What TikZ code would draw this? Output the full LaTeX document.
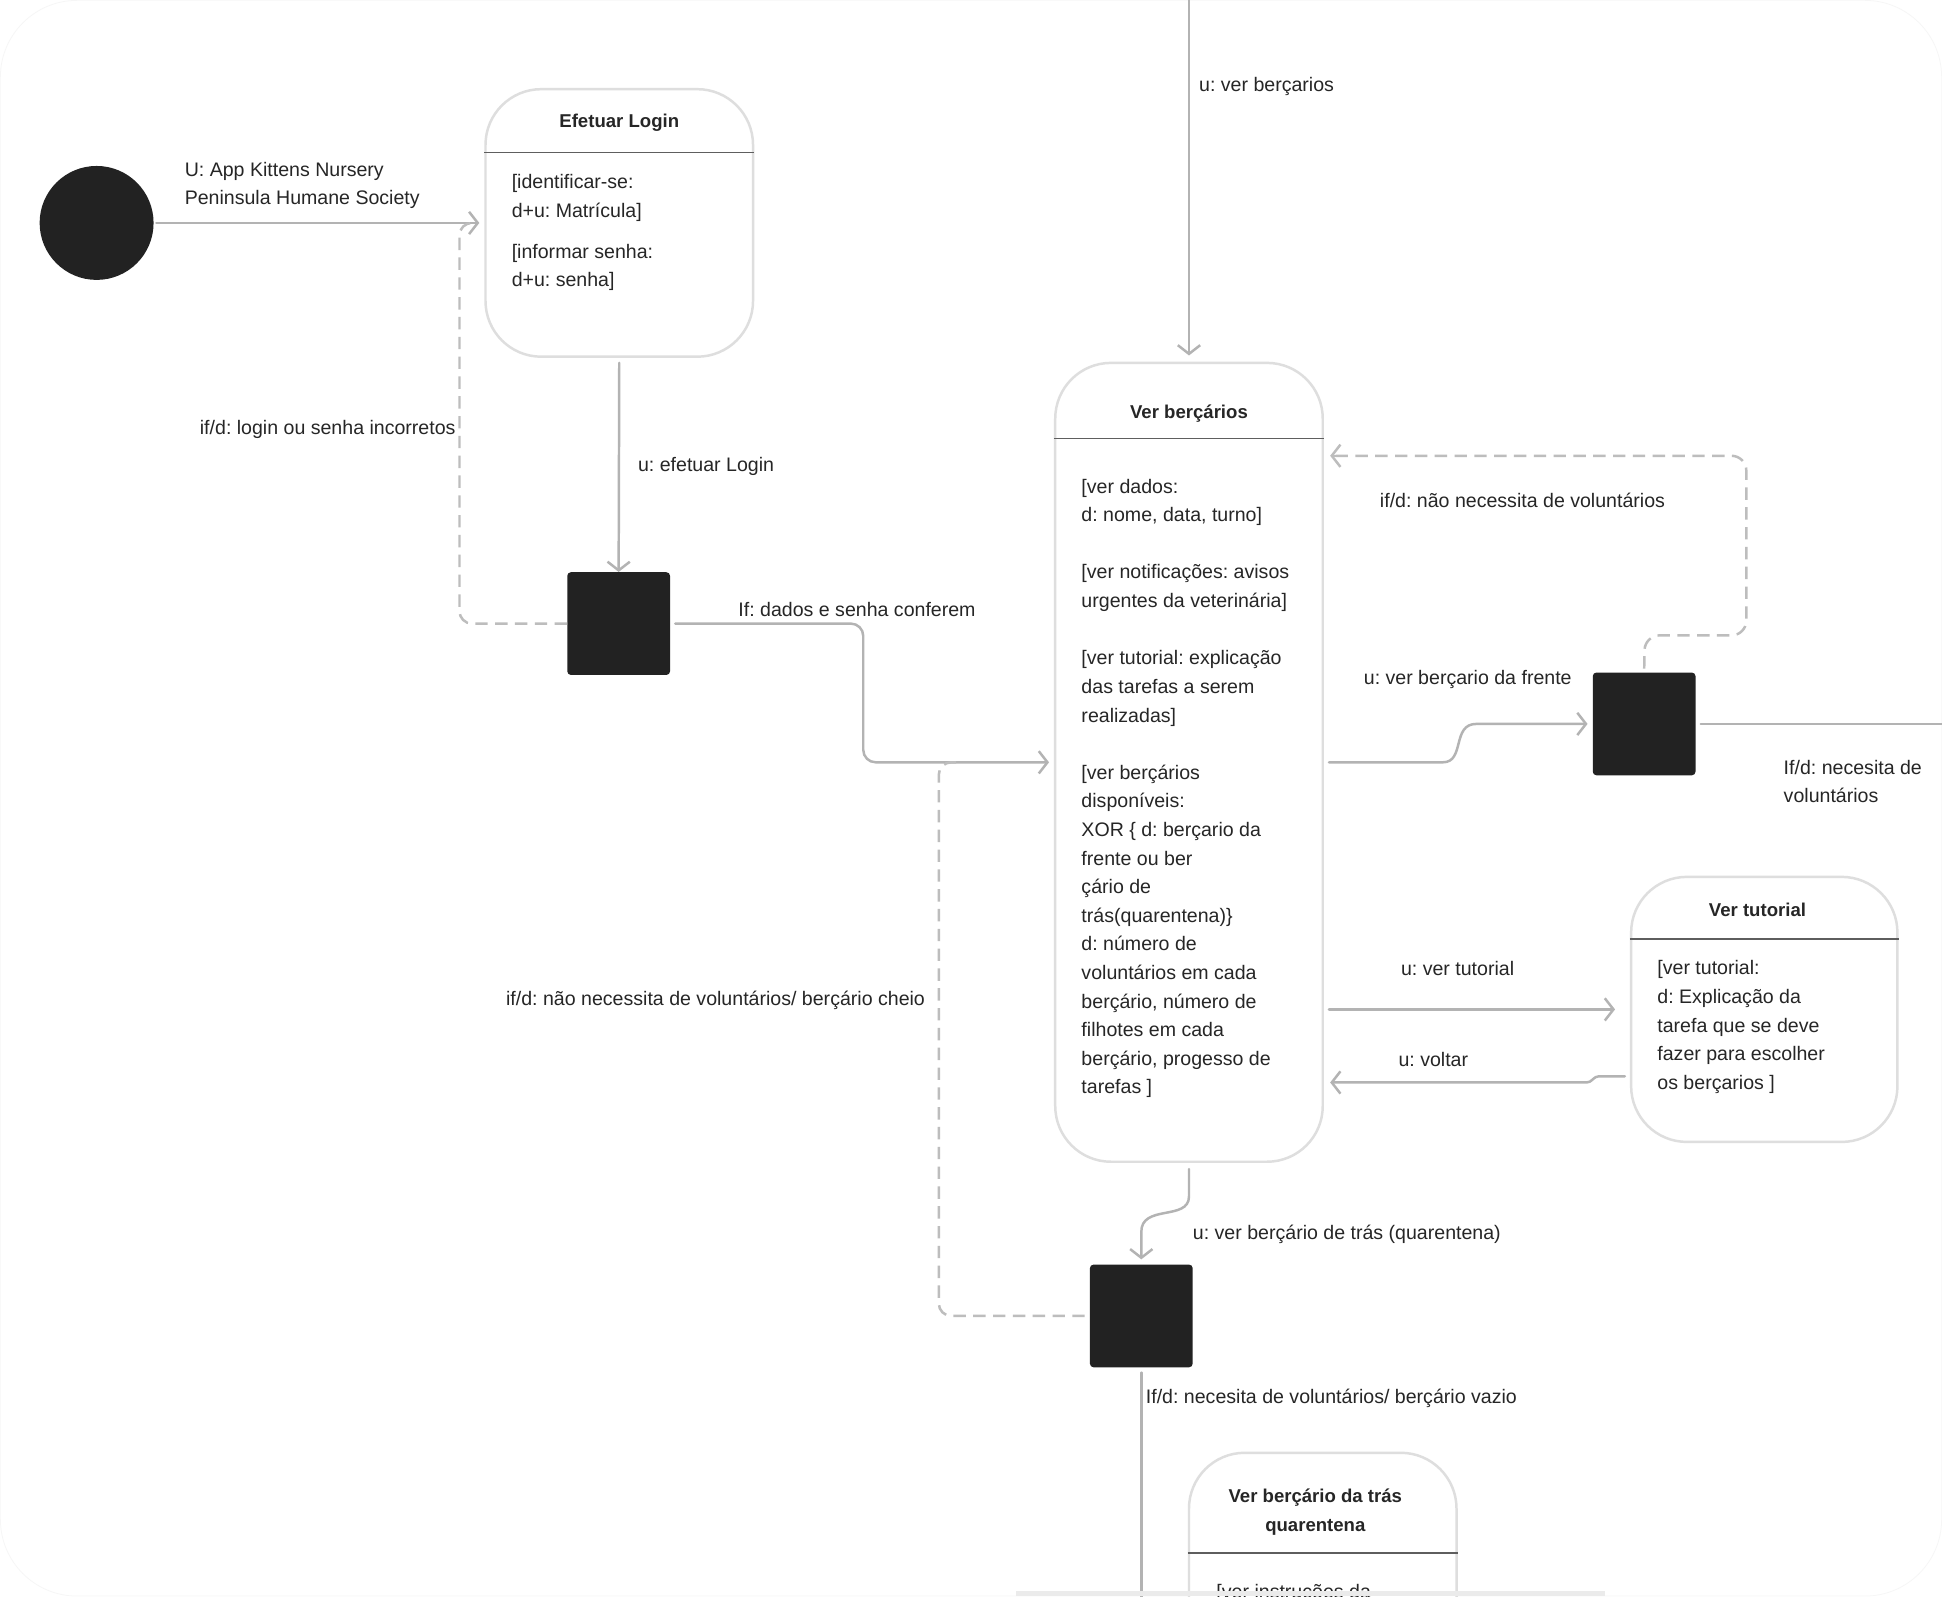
\documentclass[tikz,border=0pt]{standalone}
\usepackage{fontspec}
\setmainfont{Liberation Sans}
\usetikzlibrary{arrows.meta}
\frenchspacing
\definecolor{ink}{HTML}{262626}
\definecolor{wirec}{HTML}{B3B3B3}
\definecolor{dashc}{HTML}{BDBDBD}
\definecolor{rim}{HTML}{DEDEDE}
\definecolor{sepc}{HTML}{5E5E5E}
\definecolor{blk}{HTML}{222222}
\definecolor{framec}{HTML}{F6F6F6}
\definecolor{bandc}{HTML}{EBEBEB}
\tikzset{
  lbl/.style={font=\fontsize{15.8}{23}\selectfont, text=ink, inner sep=0, text height=11.5, text depth=3.5},
  mlbl/.style={font=\fontsize{15.8}{23}\selectfont, text=ink, inner sep=0, align=left, anchor=north west},
  body/.style={font=\fontsize{15.8}{23.1}\selectfont, text=ink, inner sep=0, align=left, anchor=north west},
  ttl/.style={font=\fontsize{15}{23}\selectfont\bfseries, text=ink, inner sep=0, align=center},
  statebox/.style={draw=rim, line width=2, rounded corners=45, fill=white, inner sep=0},
  sepline/.style={draw=sepc, line width=1.2},
  bar/.style={fill=blk, rounded corners=3, inner sep=0, minimum width=83, minimum height=83},
  tipa/.tip={Straight Barb[length=7,width=18]},
  wire/.style={draw=wirec, line width=2, line cap=round},
  awire/.style={wire, -tipa},
  dwire/.style={draw=dashc, line width=2, dash pattern=on 10 off 6},
}
\begin{document}
\begin{tikzpicture}[x=1pt,y=-1pt]
\useasboundingbox (0,0) rectangle (1568,1289);
\clip (0,0) rectangle (1568,1289);
\fill[white] (0,0) rectangle (1568,1289);
\draw[framec, line width=0.6, rounded corners=62] (0.3,0.3) rectangle (1567.7,1288.7);

% ---------- states ----------
\node[circle, fill=blk, minimum size=92, inner sep=0] (start) at (78,180) {};

\node[statebox, minimum width=216, minimum height=216] (login) at (500,180) {};
\draw[sepline] (login.west |- 0,123) -- (login.east |- 0,123);
\node[ttl] (loginT) at (500,99) {Efetuar Login};
\node[body] (loginB) at (413,140.5) {[identificar-se:\\d+u: Matrícula]\\[10pt][informar senha:\\d+u: senha]};

\node[statebox, minimum width=216, minimum height=645] (vb) at (960,615.5) {};
\draw[sepline] (vb.west |- 0,354) -- (vb.east |- 0,354);
\node[ttl] (vbT) at (960,334) {Ver berçários};
\node[body] (vbB) at (873,386.5) {[ver dados:\\d: nome, data, turno]\\[23.1pt][ver notificações: avisos\\urgentes da veterinária]\\[23.1pt][ver tutorial: explicação\\das tarefas a serem\\realizadas]\\[23.1pt][ver berçários\\disponíveis:\\XOR \{ d: berçario da\\frente ou ber\\çário de\\trás(quarentena)\}\\d: número de\\voluntários em cada\\berçário, número de\\filhotes em cada\\berçário, progesso de\\tarefas ]};

\node[statebox, minimum width=215, minimum height=214] (tut) at (1424.5,815) {};
\draw[sepline] (tut.west |- 0,758) -- (tut.east |- 0,758);
\node[ttl] (tutT) at (1419,735) {Ver tutorial};
\node[body] (tutB) at (1338,775.5) {[ver tutorial:\\d: Explicação da\\tarefa que se deve\\fazer para escolher\\os berçarios ]};

\node[statebox, minimum width=216, minimum height=300] (tras) at (1068,1323) {};
\draw[sepline] (tras.west |- 0,1254) -- (tras.east |- 0,1254);
\node[ttl] (trasT) at (1062,1221) {Ver berçário da trás\\quarentena};
\node[body] (trasB) at (982,1279) {[ver instruções da};

% ---------- forks ----------
\node[bar] (sq1) at (499.5,503.5) {};
\node[bar] (sq2) at (1327.5,584.5) {};
\node[bar] (sq3) at (921.5,1062.5) {};

% ---------- free ends ----------
\coordinate (topin) at (960,-5);
\coordinate (offR) at (1580,584.5);
\coordinate (offB) at (921.5,1300);

% ---------- connectors ----------
\draw[awire, shorten <=2, shorten >=4] (start.east) -- (login.west);
\draw[awire, shorten <=4] (login.south) -- (sq1.north);
\draw[dwire, rounded corners=10] (sq1.west) -- (371,503.5) -- (371,180) -- ([xshift=-6]login.west);
\draw[awire, rounded corners=10, shorten <=4, shorten >=4] (sq1.east) -- (697,503.5) -- (697,615.5) -- (vb.west);
\draw[dwire, rounded corners=10, shorten <=4] (sq3.west) -- (758,1062.5) -- (758,615.5) -- (772,615.5);
\draw[awire, shorten >=5] (topin) -- (vb.north);
\draw[awire, shorten <=4, shorten >=4] (vb.east) -- (1165,615.5) .. controls (1183,615.5) and (1172,584.5) .. (1192,584.5) -- (sq2.west);
\draw[dwire, rounded corners=12, shorten <=3] (sq2.north) -- (1328,513) -- (1410,513) -- (1410,368) -- ([xshift=8]vb.east |- 0,368);
\draw[draw=dashc, line width=2, -tipa] ([xshift=12]vb.east |- 0,368) -- ([xshift=5]vb.east |- 0,368);
\draw[wire, shorten <=4] (sq2.east) -- (offR);
\draw[awire, shorten <=4, shorten >=12] (vb.east |- 0,815) -- (tut.west |- 0,815);
\draw[awire, rounded corners=3, shorten <=4, shorten >=5] (tut.west |- 0,869) -- (1288,869) -- (1284,874) -- (vb.east |- 0,874);
\draw[awire, shorten <=5, shorten >=4] (vb.south) -- (960,966) .. controls (960,986) and (921,972) .. (921.5,995) -- (sq3.north);
\draw[wire, shorten <=4] (sq3.south) -- (offB);

% ---------- labels ----------
\node[mlbl] (l1) at (149,130.5) {U: App Kittens Nursery\\Peninsula Humane Society};
\node[lbl, anchor=east] (l2) at (368,346.5) {if/d: login ou senha incorretos};
\node[lbl, anchor=west] (l3) at (515,376.5) {u: efetuar Login};
\node[lbl, anchor=west] (l4) at (596,493.5) {If: dados e senha conferem};
\node[lbl, anchor=west] (l5) at (968,69.5) {u: ver berçarios};
\node[lbl, anchor=west] (l6) at (1114,405.5) {if/d: não necessita de voluntários};
\node[lbl, anchor=west] (l7) at (1101,548.5) {u: ver berçario da frente};
\node[mlbl] (l8) at (1440,613.5) {If/d: necesita de\\voluntários};
\node[lbl, anchor=west] (l9) at (1131,783.5) {u: ver tutorial};
\node[lbl, anchor=west] (l10) at (1129,857.5) {u: voltar};
\node[lbl, anchor=east] (l11) at (747,807.5) {if/d: não necessita de voluntários/ berçário cheio};
\node[lbl, anchor=west] (l12) at (963,996.5) {u: ver berçário de trás (quarentena)};
\node[lbl, anchor=west] (l13) at (925,1129.5) {If/d: necesita de voluntários/ berçário vazio};

% bottom shadow band
\fill[bandc] (820,1284.5) rectangle (1296,1289);
\end{tikzpicture}
\end{document}
